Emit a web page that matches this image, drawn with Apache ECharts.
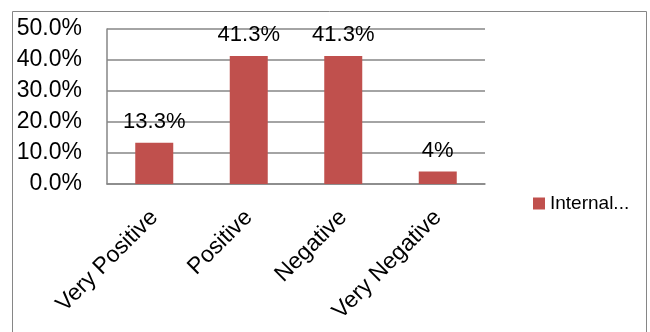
<!DOCTYPE html>
<html>
<head>
<meta charset="utf-8">
<script src="https://cdn.jsdelivr.net/npm/echarts@6/dist/echarts.min.js"></script>
<style>
  html, body { margin: 0; padding: 0; background: #fff; }
  #chart { width: 650px; height: 332px; }
</style>
</head>
<body>
<div id="chart"></div>
<script>
// Survey response shares
const categories = ['Very Positive', 'Positive', 'Negative', 'Very Negative'];
const shares = [13.3, 41.3, 41.3, 4];
const valueLabels = ['13.3%', '41.3%', '41.3%', '4%'];
const seriesName = 'Internal...';

const FONT = '"Liberation Sans", Arial, sans-serif';
const chart = echarts.init(document.getElementById('chart'));

chart.setOption({
  animation: false,
  backgroundColor: '#ffffff',
  textStyle: { fontFamily: FONT },
  graphic: [{
    type: 'rect',
    shape: { x: 12.5, y: 11.5, width: 634, height: 340 },
    style: { fill: 'none', stroke: '#868686', lineWidth: 1 },
    silent: true
  }],
  grid: { left: 107, right: 165, top: 29, bottom: 148 },
  legend: {
    data: [seriesName],
    orient: 'vertical',
    left: 528,
    top: 189,
    itemWidth: 12,
    itemHeight: 12,
    itemGap: 6,
    textStyle: { fontSize: 19, color: '#000', fontFamily: FONT },
    icon: 'rect'
  },
  xAxis: {
    type: 'category',
    data: categories,
    axisLine: { lineStyle: { color: '#868686', width: 1.5 } },
    axisTick: { show: false },
    axisLabel: {
      rotate: 45,
      fontSize: 23,
      color: '#000',
      margin: 30,
      interval: 0,
      fontFamily: FONT
    }
  },
  yAxis: {
    type: 'value',
    min: 0,
    max: 50,
    interval: 10,
    axisLine: { show: true, lineStyle: { color: '#868686', width: 1.5 } },
    axisTick: { show: false },
    splitLine: { lineStyle: { color: '#868686', width: 1.5 } },
    axisLabel: {
      fontSize: 23,
      color: '#000',
      margin: 25,
      fontFamily: FONT,
      formatter: v => v.toFixed(1) + '%'
    }
  },
  series: [{
    name: seriesName,
    type: 'bar',
    data: shares,
    barWidth: 38,
    itemStyle: { color: '#C0504D' },
    label: {
      show: true,
      position: 'top',
      distance: 10,
      fontSize: 22,
      color: '#000',
      fontFamily: FONT,
      formatter: p => valueLabels[p.dataIndex]
    }
  }]
});
</script>
</body>
</html>
